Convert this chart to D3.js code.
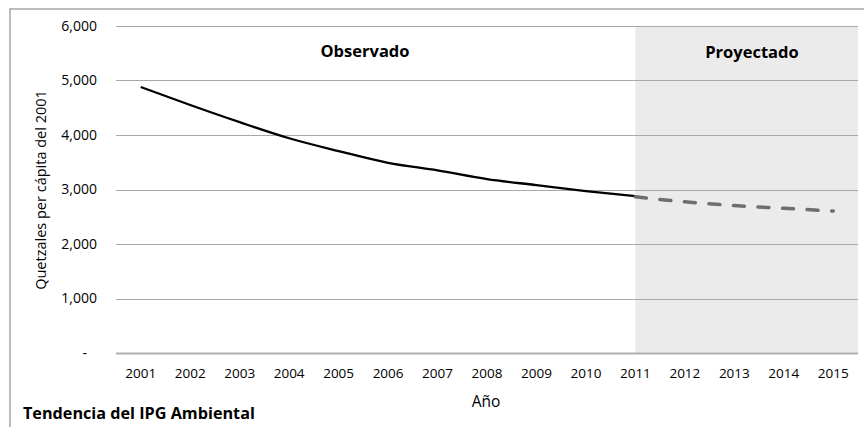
<!DOCTYPE html>
<html><head><meta charset="utf-8">
<script src="https://cdn.jsdelivr.net/npm/d3@7"></script>
<style>body{margin:0;background:#fff}svg{display:block}text{font-family:"Open Sans",Lato,sans-serif}</style>
</head><body>
<svg id="c" width="864" height="427"></svg>
<script>
const years = ["2001","2002","2003","2004","2005","2006","2007","2008","2009","2010","2011","2012","2013","2014","2015"];
const observedYears = ["2001","2002","2003","2004","2005","2006","2007","2008","2009","2010","2011"];
const observedValues = [4880,4550,4235,3940,3705,3490,3350,3190,3080,2970,2877];
const projectedYears = ["2011","2012","2013","2014","2015"];
const projectedValues = [2865,2775,2705,2655,2605];
const yTicks = [0,1000,2000,3000,4000,5000,6000];
const regionLabels = ["Observado","Proyectado"];
const yTitle = "Quetzales per cápita del 2001";
const xTitle = "Año";
const caption = "Tendencia del IPG Ambiental";

const svg = d3.select("#c");
const pL = 116, pR = 858, pT = 26, pB = 353;
const x = d3.scaleBand().domain(years).range([pL, pR]).padding(0);
const cx = d => x(d) + x.bandwidth() / 2;
const y = d3.scaleLinear().domain([0, 6000]).range([pB, pT]);

// outer border
svg.append("rect").attr("x", 10).attr("y", 9).attr("width", 900).attr("height", 500)
  .attr("fill", "none").attr("stroke", "#a6a6a6").attr("stroke-width", 1.5);

// shaded projected region
svg.append("rect").attr("x", cx("2011")).attr("y", pT)
  .attr("width", pR - cx("2011")).attr("height", pB - pT).attr("fill", "#ebebeb");

// gridlines
svg.append("g").selectAll("line").data(yTicks).join("line")
  .attr("x1", pL).attr("x2", pR)
  .attr("y1", d => Math.round(y(d)) + 0.5).attr("y2", d => Math.round(y(d)) + 0.5)
  .attr("stroke", d => d === 0 ? "#b0b0b0" : "#a8a8a8").attr("stroke-width", d => d === 0 ? 2 : 1);

// y axis labels
const yAxis = d3.axisLeft(y).tickValues(yTicks).tickSize(0).tickPadding(0)
  .tickFormat(d => d === 0 ? "-" : d3.format(",")(d));
const gy = svg.append("g").attr("transform", `translate(97,0)`).call(yAxis);
gy.select(".domain").remove();
gy.selectAll("text").attr("font-size", 14).attr("fill", "#000").attr("font-family", "Open Sans")
  .attr("dx", d => d === 0 ? -10 : 0);

// x axis labels
const xAxis = d3.axisBottom(x).tickSize(0).tickPadding(0);
const gx = svg.append("g").attr("transform", `translate(0,368)`).call(xAxis);
gx.select(".domain").remove();
gx.selectAll("text").attr("font-size", 13.5).attr("fill", "#000").attr("font-family", "Open Sans");

// observed line
const line = d3.line().x(d => cx(d[0])).y(d => y(d[1])).curve(d3.curveMonotoneX);
svg.append("path").datum(observedYears.map((d, i) => [d, observedValues[i]]))
  .attr("d", line).attr("fill", "none").attr("stroke", "#000").attr("stroke-width", 2.3);

// projected line
svg.append("path").datum(projectedYears.map((d, i) => [d, projectedValues[i]]))
  .attr("d", line).attr("fill", "none").attr("stroke", "#6e6e6e").attr("stroke-width", 3.5)
  .attr("stroke-dasharray", "11,13.6").attr("stroke-linecap", "round");

// region labels
svg.append("text").attr("x", 365).attr("y", 57).attr("text-anchor", "middle")
  .attr("font-size", 16.5).attr("font-weight", "bold").text(regionLabels[0]);
svg.append("text").attr("x", 752).attr("y", 58).attr("text-anchor", "middle")
  .attr("font-size", 16.5).attr("font-weight", "bold").text(regionLabels[1]);

// axis titles
svg.append("text").attr("transform", "translate(46,190) rotate(-90)").attr("text-anchor", "middle")
  .attr("font-size", 14.5).text(yTitle);
svg.append("text").attr("x", 486).attr("y", 407).attr("text-anchor", "middle")
  .attr("font-size", 15.5).text(xTitle);

// caption
svg.append("text").attr("x", 23).attr("y", 419).attr("font-size", 16.2)
  .attr("font-weight", "bold").text(caption);
</script>
</body></html>
